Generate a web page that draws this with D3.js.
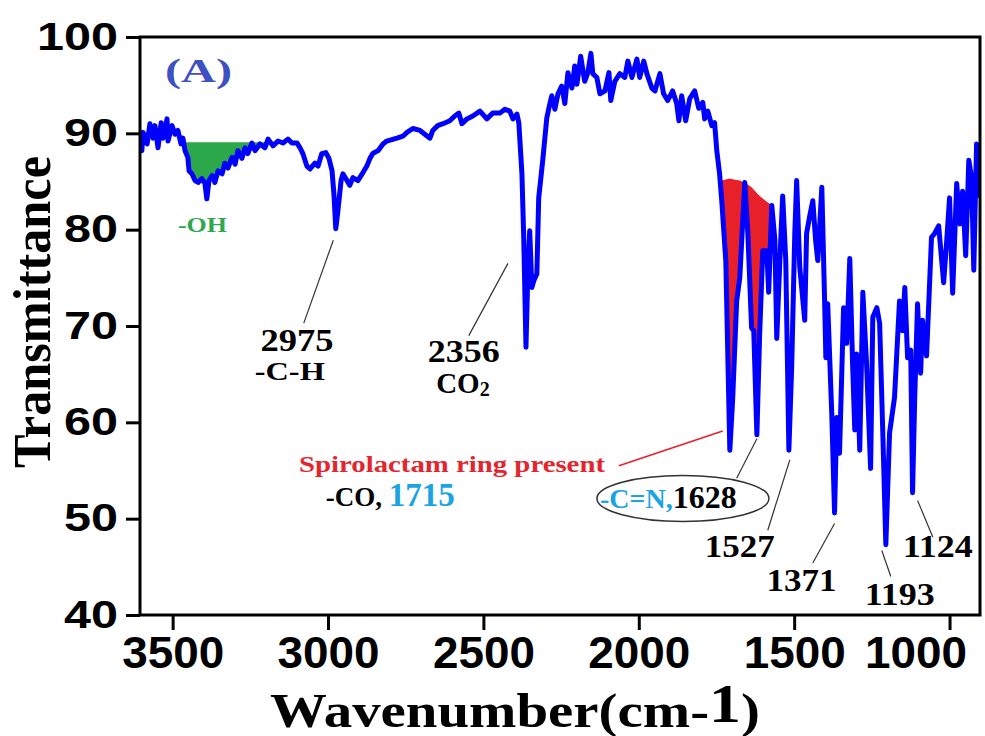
<!DOCTYPE html>
<meta charset="utf-8">
<style>
body { margin: 0; background: #fff; }
svg { display: block; }
.axis text { font-family: "Liberation Sans", Arial, sans-serif; font-weight: bold; fill: #000; }
.note { font-family: "Times New Roman", "Liberation Serif", Times, serif; font-weight: bold; }
</style>

<svg width="985" height="736"></svg>
<script src="https://d3js.org/d3.v7.min.js"></script>
<script>

// FTIR spectrum (wavenumber in cm-1, % transmittance)
var wavenumber = [3605,3599,3595,3582,3573,3563,3557,3547,3537,3531,3518,3515,3502,3492,3483,3473,3467,3460,3451,3447,
  3438,3428,3418,3406,3396,3390,3383,3373,3364,3354,3341,3332,3322,3309,3299,3290,3277,3267,3258,3245,
  3235,3219,3203,3193,3177,3161,3145,3129,3116,3100,3090,3081,3068,3058,3042,3032,3020,3007,2997,2987,
  2981,2975,2968,2958,2952,2939,2930,2920,2904,2888,2875,2865,2856,2839,2823,2811,2778,2759,2746,2727,
  2704,2672,2663,2647,2630,2608,2592,2579,2569,2553,2534,2511,2489,2470,2447,2431,2415,2405,2392,2386,
  2376,2370,2363,2357,2351,2344,2338,2328,2322,2309,2296,2286,2280,2270,2260,2248,2238,2228,2215,2206,
  2199,2187,2174,2164,2154,2148,2135,2125,2109,2096,2090,2077,2061,2045,2035,2022,2006,1997,1984,1974,
  1958,1948,1932,1920,1907,1891,1878,1871,1862,1849,1836,1820,1807,1794,1788,1778,1765,1756,1749,1740,
  1733,1720,1707,1698,1685,1675,1659,1649,1637,1630,1620,1611,1601,1588,1582,1572,1562,1556,1546,1537,
  1527,1517,1508,1498,1492,1482,1466,1460,1450,1440,1431,1424,1411,1402,1398,1392,1379,1370,1363,1354,
  1341,1331,1321,1312,1305,1299,1289,1279,1267,1254,1247,1234,1225,1215,1205,1193,1177,1161,1151,1144,
  1135,1125,1119,1112,1103,1093,1087,1074,1058,1048,1035,1019,1009,1000,990,977,967,958,948,938,
  929,922,913,906];
var transmittance = [88.2,88.2,90.1,88.9,91.0,89.5,90.8,88.5,91.1,89.5,91.5,89.2,90.8,89.9,90.3,88.9,89.5,88.2,87.5,86.1,
  85.8,85.1,84.9,85.3,84.8,83.2,85.1,85.6,84.9,86.1,85.8,86.9,86.4,87.5,86.8,88.2,87.4,88.5,87.9,89.0,
  88.2,88.9,88.5,89.4,88.7,89.2,89.0,89.4,89.0,89.0,88.5,87.9,86.6,86.3,86.9,86.6,87.9,88.0,87.4,86.1,
  83.7,80.1,82.0,85.1,85.8,85.1,84.6,85.4,85.1,85.9,86.6,87.4,87.9,88.2,88.9,89.2,89.5,89.7,90.1,90.5,
  90.3,89.5,90.3,90.8,91.0,91.3,91.8,92.1,91.0,91.5,91.8,92.3,91.5,92.1,92.1,92.5,92.3,91.5,92.0,91.1,
  85.8,78.9,67.8,75.4,79.9,74.0,74.7,75.4,83.3,87.2,91.6,93.1,93.9,92.5,94.1,94.9,93.1,96.3,94.7,97.0,
  95.1,98.0,95.4,96.3,98.3,96.2,95.8,94.1,94.4,96.3,93.4,95.4,96.2,95.8,97.5,95.8,97.7,95.8,97.5,96.2,
  94.7,94.4,96.2,94.1,93.4,94.4,93.1,91.3,93.9,91.3,93.6,94.4,92.6,93.2,91.5,92.3,90.8,91.1,88.2,85.8,
  83.0,76.8,57.1,62.3,72.6,75.0,84.9,79.6,69.8,69.5,58.7,69.2,77.8,77.8,73.5,82.5,78.9,68.7,76.8,83.5,
  76.8,57.1,65.7,79.6,85.1,76.1,70.6,79.6,81.4,83.0,78.9,76.8,84.4,72.6,66.7,72.3,60.9,50.6,60.5,56.8,
  71.9,68.2,77.0,66.1,59.2,67.1,57.1,73.5,66.1,55.2,70.9,71.9,70.3,59.2,47.3,58.9,62.6,72.6,69.5,74.0,
  66.7,67.5,52.7,62.6,72.3,65.1,70.6,66.9,79.2,79.6,80.4,74.5,78.9,83.3,73.4,84.8,80.6,84.0,77.3,87.2,
  85.4,75.8,88.9,83.3];

var xTicks = [3500, 3000, 2500, 2000, 1500, 1000];
var yTicks = [40, 50, 60, 70, 80, 90, 100];

// shaded bands: -OH (flat top) and spirolactam C=O / C=N (curved top)
var ohRange = [3462, 3160];
var ohLevel = 89.0;
var lactamWn = [1733, 1707, 1675, 1643, 1611, 1572];
var lactamTop = [85.1, 85.3, 85.1, 84.6, 83.5, 82.5];

var spectrum = wavenumber.map(function(w, i) { return {wn: w, t: transmittance[i]}; });

var svg = d3.select("svg");

var x = d3.scaleLinear().domain([3605, 902]).range([140, 980]);
var y = d3.scaleLinear().domain([40, 100]).range([615, 37]);

svg.append("clipPath").attr("id", "plot")
  .append("rect").attr("x", 140).attr("y", 37).attr("width", 840).attr("height", 578);

var plot = svg.append("g").attr("clip-path", "url(#plot)");

function band(lo, hi, top, color) {
  var pts = spectrum.filter(function(d) { return d.wn >= lo && d.wn <= hi; });
  var area = d3.area()
    .x(function(d) { return x(d.wn); })
    .y0(function(d) { return y(top(d.wn)); })
    .y1(function(d) { return y(Math.min(d.t, top(d.wn))); });
  plot.append("path").datum(pts).attr("d", area).attr("fill", color);
}

band(ohRange[1], ohRange[0], function() { return ohLevel; }, "#2ba84a");
var lactamScale = d3.scaleLinear().domain(lactamWn).range(lactamTop).clamp(true);
band(lactamWn[lactamWn.length - 1], lactamWn[0], lactamScale, "#e8202a");

// the -OH band top edge continues as a thin line
plot.append("line")
  .attr("x1", x(ohRange[0])).attr("x2", x(ohRange[1]))
  .attr("y1", y(ohLevel)).attr("y2", y(ohLevel))
  .attr("stroke", "#2ba84a").attr("stroke-width", 1.5);

var line = d3.line().x(function(d) { return x(d.wn); }).y(function(d) { return y(d.t); });
plot.append("path").datum(spectrum)
  .attr("d", line)
  .attr("fill", "none")
  .attr("stroke", "#0000ff")
  .attr("stroke-width", 5)
  .attr("stroke-linejoin", "round");

// axes
var yAxis = svg.append("g").attr("class", "axis")
  .attr("transform", "translate(140,0)")
  .call(d3.axisLeft(y).tickValues(yTicks).tickSize(14).tickPadding(8));
yAxis.select(".domain").remove();
yAxis.selectAll("line").attr("stroke-width", 3);
yAxis.selectAll("text")
  .attr("font-size", 38)
  .attr("textLength", function(d) { return 27 * String(d).length; })
  .attr("lengthAdjust", "spacingAndGlyphs");

var xAxis = svg.append("g").attr("class", "axis")
  .attr("transform", "translate(0,615)")
  .call(d3.axisBottom(x).tickValues(xTicks).tickFormat(d3.format("d")).tickSize(15).tickPadding(7));
xAxis.select(".domain").remove();
xAxis.selectAll("line").attr("stroke-width", 3);
xAxis.selectAll("text")
  .attr("font-size", 44)
  .attr("textLength", 102)
  .attr("lengthAdjust", "spacingAndGlyphs")
  // the last label sits left of its tick so it stays inside the picture
  .attr("x", function(d) { return d === 1000 ? -34 : 0; });

svg.append("rect")
  .attr("x", 140).attr("y", 37).attr("width", 840).attr("height", 578)
  .attr("fill", "none").attr("stroke", "#000").attr("stroke-width", 3);

// axis titles
var xt = svg.append("text").attr("class", "note")
  .attr("x", 515).attr("y", 727)
  .attr("text-anchor", "middle")
  .attr("font-size", 48)
  .attr("textLength", 490).attr("lengthAdjust", "spacingAndGlyphs")
  .text("Wavenumber(cm-");
xt.append("tspan").attr("dy", -5).attr("font-size", 54).text("1");
xt.append("tspan").attr("dy", 5).text(")");

svg.append("text").attr("class", "note")
  .attr("transform", "translate(50,312) rotate(-90)")
  .attr("text-anchor", "middle")
  .attr("font-size", 52)
  .attr("textLength", 312).attr("lengthAdjust", "spacingAndGlyphs")
  .text("Transmittance");

// annotations (anchored in data units)
function note(txt, wn, t, size, len, color, anchor) {
  return svg.append("text").attr("class", "note")
    .attr("x", x(wn)).attr("y", y(t))
    .attr("text-anchor", anchor || "middle")
    .attr("font-size", size)
    .attr("fill", color || "#000")
    .attr("textLength", len).attr("lengthAdjust", "spacingAndGlyphs")
    .text(txt);
}
function leader(w1, t1, w2, t2, color, width) {
  svg.append("line")
    .attr("x1", x(w1)).attr("y1", y(t1)).attr("x2", x(w2)).attr("y2", y(t2))
    .attr("stroke", color || "#333").attr("stroke-width", width || 1.2);
}

svg.append("text").attr("class", "note")
  .attr("x", 165).attr("y", 82)
  .attr("font-size", 34).attr("fill", "#3f50c2")
  .attr("textLength", 67).attr("lengthAdjust", "spacingAndGlyphs")
  .text("(A)");

note("-OH", 3404, 79.8, 21, 49, "#2fa84f");

leader(2983, 78.9, 3078, 70.3);
note("2975", 3100, 67.4, 31, 73);
note("-C-H", 3123, 64.4, 26, 70);

leader(2421, 76.5, 2547, 69.0);
note("2356", 2563, 66.3, 32, 72);
var co2 = note("CO", 2566, 63.0, 29, 60);
co2.attr("textLength", null);
co2.append("tspan").attr("font-size", 20).attr("dy", 3).text("2");

leader(2064, 55.5, 1730, 59.1, "#e8202a", 1.5);
note("Spirolactam ring present", 2601, 54.8, 23, 306, "#e3262e");

var co = svg.append("text").attr("class", "note")
  .attr("x", x(3007)).attr("y", y(51.3));
co.append("tspan").attr("font-size", 27).text("-CO, ");
co.append("tspan").attr("font-size", 33).attr("fill", "#1ca3e3").text("1715");

svg.append("ellipse")
  .attr("cx", x(1858)).attr("cy", y(52.1)).attr("rx", 86).attr("ry", 23)
  .attr("fill", "none").attr("stroke", "#333").attr("stroke-width", 1.5);
var cn = svg.append("text").attr("class", "note")
  .attr("x", x(2125)).attr("y", y(51.1));
cn.append("tspan").attr("font-size", 28).attr("fill", "#1ca3e3").text("-C=N,");
cn.append("tspan").attr("font-size", 32).text("1628");

leader(1685, 54.2, 1620, 58.3);
leader(1585, 48.8, 1514, 56.1);
note("1527", 1675, 46.0, 32, 70);
leader(1440, 45.4, 1370, 49.5);
note("1371", 1476, 42.5, 32, 70);
leader(1189, 44.0, 1218, 46.7);
note("1193", 1160, 41.0, 32, 70);
leader(1054, 48.1, 1103, 51.9);
note("1124", 1038, 46.0, 32, 70);

</script>
